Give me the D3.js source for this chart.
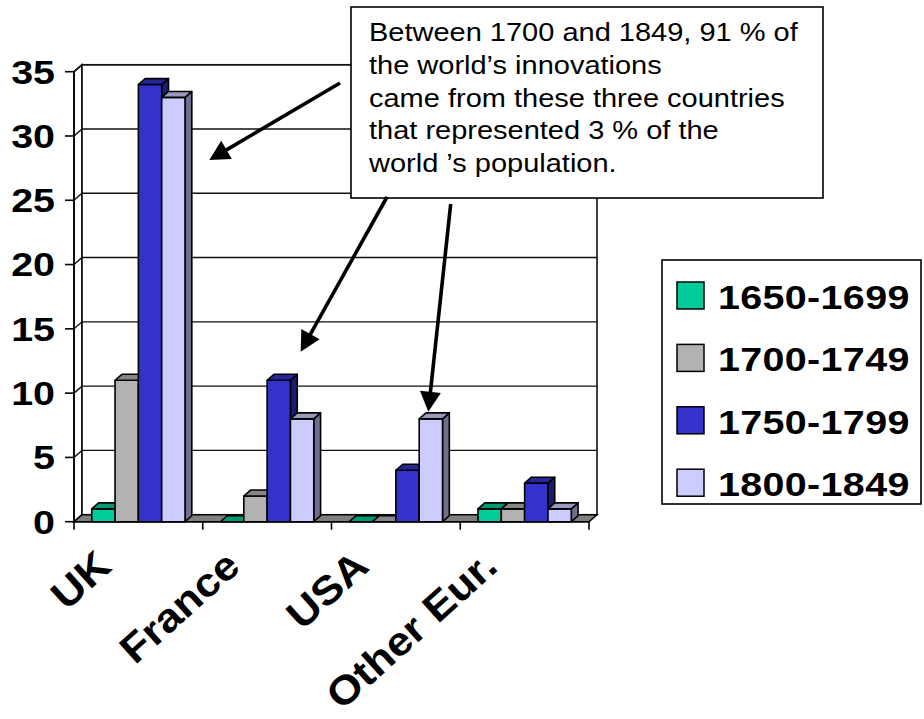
<!DOCTYPE html>
<html>
<head>
<meta charset="utf-8">
<script src="https://cdn.jsdelivr.net/npm/d3@7"></script>
<style>
  html, body { margin: 0; padding: 0; background: #fff; }
  svg { display: block; }
  text { font-family: "Liberation Sans", Arial, sans-serif; }
</style>
</head>
<body>
<script>
// Innovations by country and half-century
const categories = ["UK", "France", "USA", "Other Eur."];
const seriesNames = ["1650-1699", "1700-1749", "1750-1799", "1800-1849"];
const values1650 = [1, 0, 0, 1];
const values1700 = [11, 2, 0, 1];
const values1750 = [34, 11, 4, 3];
const values1800 = [33, 8, 8, 1];
const yTicks = [0, 5, 10, 15, 20, 25, 30, 35];
const seriesColors = ["#00CC99", "#B2B2B2", "#3333CC", "#CCCCFF"];
const noteLines = [
  "Between 1700 and 1849, 91 % of",
  "the world\u2019s innovations",
  "came from these three countries",
  "that represented 3 % of the",
  "world \u2019s population."
];

const seriesValues = [values1650, values1700, values1750, values1800];

const W = 924, H = 719;
const SX = 1.16;           // horizontal stretch applied to all text
const DX = 8, DY = -7;     // oblique depth of the plot box
const BAR_DEPTH = 0.85;    // fraction of the box depth taken by a bar

const svg = d3.select("body").append("svg")
  .attr("width", W).attr("height", H);

const x0 = d3.scaleBand().domain(categories).range([74, 589]);
const x1 = d3.scaleBand().domain(seriesNames)
  .range([0, x0.bandwidth()]).paddingInner(0).paddingOuter(0.76);
const y = d3.scaleLinear().domain([0, 35]).range([521.7, 71.7]);

const xL = x0.range()[0], xR = x0.range()[1];
const y0 = y(0), yTop = y(35);

// Left side wall
svg.append("path")
  .attr("d", `M${xL},${y0}L${xL},${yTop}L${xL + DX},${yTop + DY}L${xL + DX},${y0 + DY}Z`)
  .attr("fill", "#fff").attr("stroke", "#000").attr("stroke-width", 1.5);

// Back wall
svg.append("rect")
  .attr("x", xL + DX).attr("y", yTop + DY)
  .attr("width", xR - xL).attr("height", y0 - yTop)
  .attr("fill", "#fff").attr("stroke", "#000").attr("stroke-width", 1.5);

// Gridlines across the back wall and the side wall
const grid = svg.append("g").attr("stroke", "#111").attr("stroke-width", 1.4).attr("fill", "none");
yTicks.forEach(t => {
  grid.append("path")
    .attr("d", `M${xL},${y(t)}L${xL + DX},${y(t) + DY}L${xR + DX},${y(t) + DY}`);
});

// Floor
svg.append("path")
  .attr("d", `M${xL},${y0}L${xR},${y0}L${xR + DX},${y0 + DY}L${xL + DX},${y0 + DY}Z`)
  .attr("fill", "#808080").attr("stroke", "#000").attr("stroke-width", 1.5);

// Bars (front, top, right side faces)
const bdx = DX * BAR_DEPTH, bdy = DY * BAR_DEPTH;
const barsG = svg.append("g").attr("stroke", "#000").attr("stroke-width", 1.6)
  .attr("stroke-linejoin", "round");
categories.forEach((cat, ci) => {
  seriesNames.forEach((s, si) => {
    const v = seriesValues[si][ci];
    const c = d3.color(seriesColors[si]);
    const xa = x0(cat) + x1(s), xb = xa + x1.bandwidth();
    const yv = y(v);
    const g = barsG.append("g");
    if (v > 0) {
      g.append("path")
        .attr("d", `M${xb},${y0}L${xb + bdx},${y0 + bdy}L${xb + bdx},${yv + bdy}L${xb},${yv}Z`)
        .attr("fill", c.darker(1.7).formatHex());
      g.append("path")
        .attr("d", `M${xa},${y0}L${xb},${y0}L${xb},${yv}L${xa},${yv}Z`)
        .attr("fill", c.formatHex());
    }
    g.append("path")
      .attr("d", `M${xa},${yv}L${xb},${yv}L${xb + bdx},${yv + bdy}L${xa + bdx},${yv + bdy}Z`)
      .attr("fill", c.darker(0.8).formatHex());
  });
});

// Axes
const axes = svg.append("g").attr("stroke", "#000").attr("stroke-width", 1.6).attr("fill", "none");
axes.append("line").attr("x1", xL).attr("x2", xR).attr("y1", y0).attr("y2", y0);
axes.append("line").attr("x1", xL).attr("x2", xL).attr("y1", yTop).attr("y2", y0);
yTicks.forEach(t => {
  axes.append("line").attr("x1", xL - 9).attr("x2", xL).attr("y1", y(t)).attr("y2", y(t));
});
const catEdges = categories.map(c => x0(c)).concat([xR]);
catEdges.forEach(xe => {
  axes.append("line").attr("x1", xe).attr("x2", xe).attr("y1", y0).attr("y2", y0 + 8);
});

// Value labels
yTicks.forEach(t => {
  svg.append("text")
    .attr("transform", `translate(55,${y(t)}) scale(${SX},1)`)
    .attr("dy", "0.35em")
    .attr("text-anchor", "end")
    .attr("font-size", 34).attr("font-weight", "bold")
    .text(t);
});

// Category labels, slanted
categories.forEach(cat => {
  const cx = x0(cat) + x0.bandwidth() / 2;
  svg.append("text")
    .attr("transform", `translate(${cx - 25},569) rotate(-42) scale(1.1,1)`)
    .attr("text-anchor", "end")
    .attr("font-size", 40).attr("font-weight", "bold")
    .text(cat);
});

// Legend
const legend = svg.append("g");
legend.append("rect")
  .attr("x", 662).attr("y", 260).attr("width", 259).attr("height", 244)
  .attr("fill", "#fff").attr("stroke", "#000").attr("stroke-width", 1.6);
seriesNames.forEach((s, i) => {
  const ly = 282 + i * 62.4;
  legend.append("rect")
    .attr("x", 677).attr("y", ly).attr("width", 27).attr("height", 27)
    .attr("fill", seriesColors[i]).attr("stroke", "#000").attr("stroke-width", 1.5);
  legend.append("text")
    .attr("transform", `translate(718,${ly + 27}) scale(${SX},1)`)
    .attr("font-size", 34).attr("font-weight", "bold")
    .attr("letter-spacing", 0.3)
    .text(s);
});

// Note box
const note = svg.append("g");
note.append("rect")
  .attr("x", 351).attr("y", 7).attr("width", 472).attr("height", 191)
  .attr("fill", "#fff").attr("stroke", "#000").attr("stroke-width", 1.6);
noteLines.forEach((line, i) => {
  note.append("text")
    .attr("transform", `translate(369,${41 + i * 32.8}) scale(${SX},1)`)
    .attr("font-size", 25)
    .text(line);
});

// Arrows from the note to the three countries
const arrows = [
  [[340, 83], [209.3, 160]],
  [[387, 197], [300.7, 351.7]],
  [[450.7, 204], [428.3, 411.7]]
];
const headLen = 20, headHalf = 10.5;
arrows.forEach(([p0, p1]) => {
  const ang = Math.atan2(p1[1] - p0[1], p1[0] - p0[0]);
  const ux = Math.cos(ang), uy = Math.sin(ang);
  const bx = p1[0] - ux * headLen, by = p1[1] - uy * headLen;
  svg.append("line")
    .attr("x1", p0[0]).attr("y1", p0[1]).attr("x2", bx + ux * 2).attr("y2", by + uy * 2)
    .attr("stroke", "#000").attr("stroke-width", 3.6);
  svg.append("path")
    .attr("d", `M${p1[0]},${p1[1]}L${bx - uy * headHalf},${by + ux * headHalf}L${bx + uy * headHalf},${by - ux * headHalf}Z`)
    .attr("fill", "#000");
});
</script>
</body>
</html>
